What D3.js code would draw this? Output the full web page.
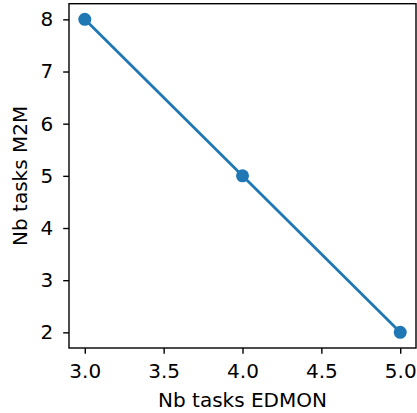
<!DOCTYPE html>
<html><head><meta charset="utf-8">
<script src="https://cdn.jsdelivr.net/npm/d3@7"></script>
<style>body{margin:0;background:#fff}svg{display:block}</style>
</head><body><svg id="c" width="417" height="413"></svg>
<script>
const xValues = [3, 4, 5];
const yValues = [8, 5, 2];
const xTicks = [3.0, 3.5, 4.0, 4.5, 5.0];
const yTicks = [2, 3, 4, 5, 6, 7, 8];
const xLabel = "Nb tasks EDMON";
const yLabel = "Nb tasks M2M";

const svg = d3.select("#c");
const L = 69, R = 416, T = 3.7, B = 348;
const x = d3.scaleLinear().domain([2.9, 5.1]).range([L, R]);
const y = d3.scaleLinear().domain([1.7, 8.3]).range([B, T]);
const font = "DejaVu Sans";
const fs = 20;
const color = "#1f77b4";

const xa = svg.append("g").attr("transform", `translate(0,${B})`)
  .call(d3.axisBottom(x).tickValues(xTicks).tickFormat(d3.format(".1f")).tickSize(5.8).tickPadding(10));
const ya = svg.append("g").attr("transform", `translate(${L},0)`)
  .call(d3.axisLeft(y).tickValues(yTicks).tickFormat(d3.format("d")).tickSize(5.8).tickPadding(9.9));
[xa, ya].forEach(a => {
  a.select(".domain").remove();
  a.selectAll("line").attr("stroke", "#000").attr("stroke-width", 1.4);
  a.selectAll("text").attr("fill", "#000").style("font-family", font).style("font-size", fs + "px");
});

svg.append("rect").attr("x", L).attr("y", T).attr("width", R - L).attr("height", B - T)
  .attr("fill", "none").attr("stroke", "#000").attr("stroke-width", 1.4);

const pts = xValues.map((v, i) => [v, yValues[i]]);
svg.append("path").datum(pts)
  .attr("d", d3.line().x(d => x(d[0])).y(d => y(d[1])))
  .attr("fill", "none").attr("stroke", color).attr("stroke-width", 2.8);
svg.selectAll("circle.m").data(pts).enter().append("circle")
  .attr("cx", d => x(d[0])).attr("cy", d => y(d[1])).attr("r", 6.5).attr("fill", color);

svg.append("text").attr("x", (L + R) / 2).attr("y", 407).attr("text-anchor", "middle")
  .style("font-family", font).style("font-size", fs + "px").text(xLabel);
svg.append("text").attr("transform", `translate(27,${(T + B) / 2}) rotate(-90)`).attr("text-anchor", "middle")
  .style("font-family", font).style("font-size", fs + "px").text(yLabel);
</script></body></html>
